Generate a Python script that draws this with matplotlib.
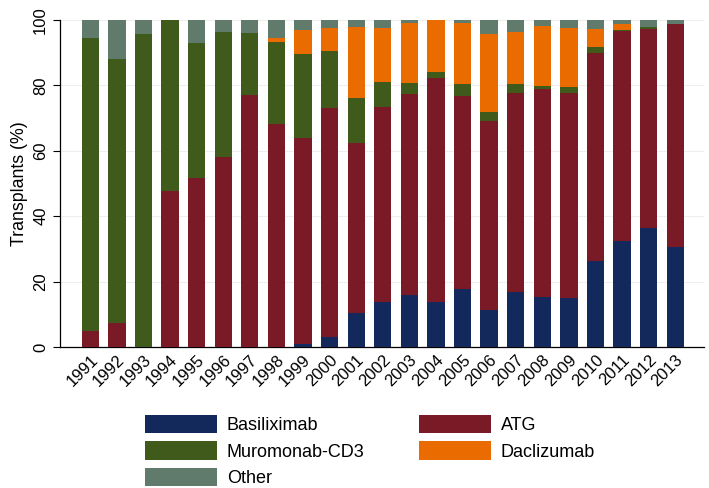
import matplotlib
matplotlib.use("Agg")
import matplotlib.pyplot as plt
import numpy as np

plt.rcParams['font.family'] = ['Liberation Sans', 'DejaVu Sans']

years = [str(y) for y in range(1991, 2014)]
basiliximab = [0, 0, 0, 0, 0, 0, 0, 0, 1.0, 3.2, 10.4, 13.9, 16.0, 13.7, 17.7, 11.4, 16.8, 15.3, 15.0, 26.4, 32.4, 36.4, 30.6]
atg = [4.9, 7.3, 0, 47.8, 51.6, 58.0, 77.2, 68.1, 63.0, 69.8, 51.9, 59.5, 61.4, 68.5, 59.2, 57.6, 60.9, 63.7, 62.8, 63.6, 64.1, 60.7, 68.2]
muromonab = [89.5, 80.8, 95.7, 52.2, 41.5, 38.3, 18.7, 25.3, 25.7, 17.4, 13.8, 7.5, 3.3, 1.8, 3.6, 3.0, 2.7, 0.9, 1.6, 1.6, 0.4, 0.7, 0]
daclizumab = [0, 0, 0, 0, 0, 0, 0, 1.1, 7.2, 7.2, 21.8, 16.8, 18.5, 16.0, 18.7, 23.7, 15.9, 18.3, 18.3, 5.8, 1.8, 0, 0]
other = [5.6, 11.9, 4.3, 0, 6.9, 3.7, 4.1, 5.5, 3.1, 2.4, 2.1, 2.3, 0.8, 0, 0.8, 4.3, 3.7, 1.8, 2.3, 2.6, 1.3, 2.2, 1.2]

series = [
    ("Basiliximab", basiliximab, "#14295b"),
    ("ATG", atg, "#7b1a27"),
    ("Muromonab-CD3", muromonab, "#3f5a1b"),
    ("Daclizumab", daclizumab, "#ea6c00"),
    ("Other", other, "#607a6b"),
]

fig = plt.figure(figsize=(7.09, 4.88), dpi=100)
ax = fig.add_axes([0.0846, 0.289, 0.909, 0.670])
x = np.arange(len(years))
bottom = np.zeros(len(years))
handles = {}
for name, vals, col in series:
    v = np.array(vals, dtype=float)
    b = ax.bar(x, v, bottom=bottom, width=0.65, color=col, label=name, zorder=3)
    handles[name] = b
    bottom += v

ax.set_xlim(-1.14, len(years) - 1 + 1.1)
ax.set_ylim(0, 100)
ax.set_yticks([0, 20, 40, 60, 80, 100])
ax.set_yticklabels(['0', '20', '40', '60', '80', '100'], rotation=90, va='center', fontsize=12)
ax.set_xticks(x)
ax.set_xticklabels(years, rotation=45, ha='right', rotation_mode='anchor', fontsize=12)
ax.tick_params(axis='x', length=0, pad=4)
ax.tick_params(axis='y', length=5, width=0.8)
ax.set_ylabel('Transplants (%)', fontsize=12.8)
ax.grid(axis='y', color='#eeeeee', linewidth=0.8, zorder=0)
ax.spines['top'].set_visible(False)
ax.spines['right'].set_visible(False)
ax.spines['left'].set_linewidth(0.9)
ax.spines['bottom'].set_linewidth(0.9)

order = ["Basiliximab", "Muromonab-CD3", "Other", "ATG", "Daclizumab"]
fig.legend([handles[n] for n in order], order, ncol=2, loc='upper left',
           bbox_to_anchor=(0.2045, 0.150), frameon=False, fontsize=13,
           handlelength=4.0, handleheight=1.2, labelspacing=0.4,
           columnspacing=3.0, handletextpad=0.54, borderpad=0.0,
           borderaxespad=0.0)

fig.savefig("out.png", dpi=100)
